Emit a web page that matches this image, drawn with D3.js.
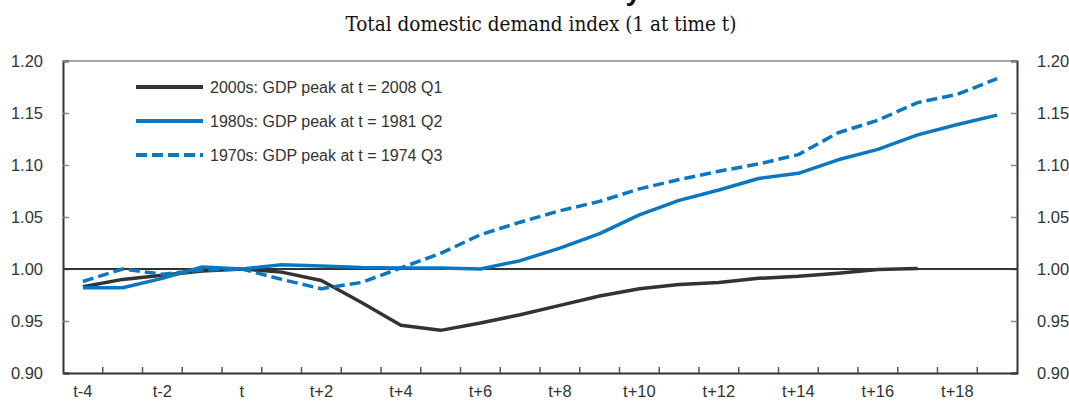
<!DOCTYPE html>
<html>
<head>
<meta charset="utf-8">
<script src="https://cdn.jsdelivr.net/npm/d3@7"></script>
<style>
  body { margin: 0; background: #fff; }
  svg text { font-family: "Liberation Sans", Arial, sans-serif; }
</style>
</head>
<body>
<div id="chart"></div>
<script>
// quarters relative to the GDP peak
const periods = ["t-4", "t-3", "t-2", "t-1", "t", "t+1", "t+2", "t+3", "t+4", "t+5", "t+6", "t+7",
    "t+8", "t+9", "t+10", "t+11", "t+12", "t+13", "t+14", "t+15", "t+16", "t+17", "t+18", "t+19"];

const tickLabels = ["t-4", "t-2", "t", "t+2", "t+4", "t+6", "t+8", "t+10", "t+12", "t+14", "t+16", "t+18"];

const yTicks = [0.90, 0.95, 1.00, 1.05, 1.10, 1.15, 1.20];

const names = ["2000s: GDP peak at t = 2008 Q1", "1980s: GDP peak at t = 1981 Q2", "1970s: GDP peak at t = 1974 Q3"];

const values2000s = [0.983, 0.990, 0.994, 0.998, 1.000, 0.997, 0.989, 0.968, 0.946, 0.941, 0.948, 0.956,
    0.965, 0.974, 0.981, 0.985, 0.987, 0.991, 0.993, 0.996, 0.9995, 1.0005];

const values1980s = [0.982, 0.982, 0.991, 1.002, 1.000, 1.004, 1.003, 1.0015, 1.001, 1.001, 1.000, 1.008,
    1.020, 1.034, 1.052, 1.066, 1.076, 1.087, 1.092, 1.105, 1.115, 1.129, 1.139, 1.148];

const values1970s = [0.988, 1.000, 0.995, 0.999, 1.000, 0.990, 0.981, 0.987, 1.001, 1.015, 1.033, 1.045,
    1.056, 1.065, 1.077, 1.086, 1.094, 1.101, 1.110, 1.131, 1.143, 1.160, 1.168, 1.183];

const margins = {top: 61, right: 52, bottom: 28, left: 63};
const width = 1069 - margins.left - margins.right;
const height = 401 - margins.top - margins.bottom;

const dark = "#333333";
const blue = "#0b77c1";

const svg = d3.select("#chart").append("svg")
    .attr("width", 1069)
    .attr("height", 401);

// title, mostly cut off by the top of the picture
svg.append("text")
    .attr("x", 540)
    .attr("y", 0)
    .attr("text-anchor", "middle")
    .style("font-size", "28px")
    .style("font-weight", "bold")
    .style("fill", "#111")
    .text("Demand recovery in");

svg.append("text")
    .attr("x", 541)
    .attr("y", 31)
    .attr("text-anchor", "middle")
    .style("font-family", "DejaVu Serif Condensed, DejaVu Serif, serif")
    .style("font-size", "20.5px")
    .style("fill", "#111")
    .text("Total domestic demand index (1 at time t)");

const g = svg.append("g")
    .attr("transform", "translate(" + margins.left + "," + margins.top + ")");

const xScale = d3.scaleBand().domain(periods).range([0, width]).padding(0);
const yScale = d3.scaleLinear().domain([0.90, 1.20]).range([height, 0]);

const xMid = d => xScale(d) + xScale.bandwidth() / 2;

// top border
g.append("line")
    .attr("x1", 0).attr("x2", width)
    .attr("y1", 0).attr("y2", 0)
    .style("stroke", "#888").style("stroke-width", 1.5);

// y axes, ticks pointing inside
const left = g.append("g")
    .call(d3.axisLeft(yScale).tickValues(yTicks).tickSize(-6).tickPadding(20).tickFormat(d3.format(".2f")));
const right = g.append("g")
    .attr("transform", "translate(" + width + ",0)")
    .call(d3.axisRight(yScale).tickValues(yTicks).tickSize(-6).tickPadding(20).tickFormat(d3.format(".2f")));

[left, right].forEach(a => {
    a.select(".domain").style("stroke", dark).style("stroke-width", 2);
    a.selectAll(".tick line").style("stroke", "#888").style("stroke-width", 1.5);
    a.selectAll("text").style("font-size", "16.5px").style("fill", "#333").attr("dy", "0.35em");
});

// x axis: labels centred in bands, tick marks at band edges
const bottom = g.append("g")
    .attr("transform", "translate(0," + height + ")")
    .call(d3.axisBottom(xScale).tickSize(0).tickPadding(12)
        .tickFormat(d => tickLabels.includes(d) ? d : ""));
bottom.select(".domain").style("stroke", dark).style("stroke-width", 2);
bottom.selectAll("text").style("font-size", "16.5px").style("fill", "#333");

g.append("g").selectAll("line")
    .data(periods.slice(1))
    .join("line")
    .attr("x1", d => xScale(d)).attr("x2", d => xScale(d))
    .attr("y1", height).attr("y2", height - 6)
    .style("stroke", "#555").style("stroke-width", 1.5);

// reference line at 1
g.append("line")
    .attr("x1", 0).attr("x2", width)
    .attr("y1", yScale(1)).attr("y2", yScale(1))
    .style("stroke", dark).style("stroke-width", 2);

const line = d3.line()
    .x((d, i) => xMid(periods[i]))
    .y(d => yScale(d));

const series = [
    {values: values2000s, color: dark, dash: null},
    {values: values1970s, color: blue, dash: "11,5"},
    {values: values1980s, color: blue, dash: null}
];

series.forEach(s => {
    g.append("path")
        .datum(s.values)
        .attr("fill", "none")
        .attr("stroke", s.color)
        .attr("stroke-width", 3.5)
        .attr("stroke-linejoin", "round")
        .attr("stroke-dasharray", s.dash)
        .attr("d", line);
});

// legend
const legendItems = [
    {name: names[0], color: dark, dash: null},
    {name: names[1], color: blue, dash: null},
    {name: names[2], color: blue, dash: "11,5"}
];

const legend = g.append("g").attr("transform", "translate(73,26)");
legendItems.forEach((d, i) => {
    const row = legend.append("g").attr("transform", "translate(0," + (i * 34) + ")");
    row.append("line")
        .attr("x1", 0).attr("x2", 67)
        .attr("y1", 0).attr("y2", 0)
        .attr("stroke", d.color)
        .attr("stroke-width", 4)
        .attr("stroke-dasharray", d.dash);
    row.append("text")
        .attr("x", 74)
        .attr("y", 0)
        .attr("dy", "0.35em")
        .style("font-size", "16px")
        .style("fill", "#333")
        .text(d.name);
});
</script>
</body>
</html>
